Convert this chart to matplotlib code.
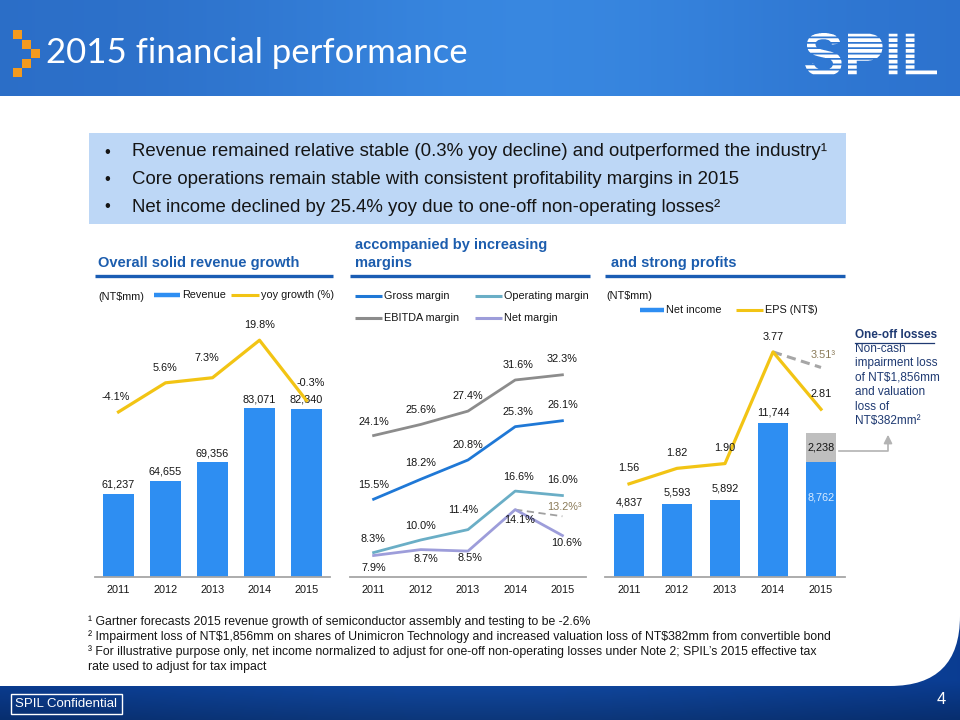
import numpy as np
import matplotlib
matplotlib.use('Agg')
import matplotlib.pyplot as plt
from matplotlib.transforms import Affine2D
from matplotlib.patches import FancyBboxPatch, Rectangle
from matplotlib.textpath import TextPath
from matplotlib.font_manager import FontProperties

# ---------------- data ----------------
years = ['2011', '2012', '2013', '2014', '2015']
revenue = [61237, 64655, 69356, 83071, 82840]
yoy_growth = [-4.1, 5.6, 7.3, 19.8, -0.3]
gross_margin = [15.5, 18.2, 20.8, 25.3, 26.1]
operating_margin = [8.3, 10.0, 11.4, 16.6, 16.0]
ebitda_margin = [24.1, 25.6, 27.4, 31.6, 32.3]
net_margin = [7.9, 8.7, 8.5, 14.1, 10.6]
net_margin_adj_2015 = 13.2
net_income = [4837, 5593, 5892, 11744, 8762]
one_off_loss_2015 = 2238
eps = [1.56, 1.82, 1.90, 3.77, 2.81]
eps_adj_2015 = 3.51

bullets = [
    "Revenue remained relative stable (0.3% yoy decline) and outperformed the industry\u00b9",
    "Core operations remain stable with consistent profitability margins in 2015",
    "Net income declined by 25.4% yoy due to one-off non-operating losses\u00b2",
]
footnotes = [
    "\u00b9 Gartner forecasts 2015 revenue growth of semiconductor assembly and testing to be -2.6%",
    "\u00b2 Impairment loss of NT$1,856mm on shares of Unimicron Technology and increased valuation loss of NT$382mm from convertible bond",
    "\u00b3 For illustrative purpose only, net income normalized to adjust for one-off non-operating losses under Note 2; SPIL\u2019s 2015 effective tax",
    "rate used to adjust for tax impact",
]
oneoff_lines = ["Non-cash", "impairment loss", "of NT$1,856mm", "and valuation", "loss of", "NT$382mm\u00b2"]

# ---------------- style ----------------
plt.rcParams['font.family'] = ['Liberation Sans', 'DejaVu Sans']
BAR_BLUE = '#2E8EF2'
YELLOW = '#F2C414'
GROSS = '#1F78D6'
OPER = '#6AAEC6'
EBITDA = '#8C8C8C'
NETM = '#9D9DDA'
HEAD = '#1C5DAE'
TXT = '#151515'
FS = 7.8

W, H = 960, 720
fig = plt.figure(figsize=(9.6, 7.2), dpi=100)
pix = Affine2D().scale(1 / W, -1 / H).translate(0, 1) + fig.transFigure


def ftext(x, y, s, **kw):
    kw.setdefault('va', 'center')
    return fig.text(x, y, s, transform=pix, parse_math=False, **kw)


def ax_at(x0, y0, x1, y1, **kw):
    return fig.add_axes([x0 / W, 1 - y1 / H, (x1 - x0) / W, (y1 - y0) / H], **kw)


# ---------------- background ----------------
bg = fig.add_axes([0, 0, 1, 1], zorder=-10)
bg.set_xlim(0, W)
bg.set_ylim(H, 0)
bg.axis('off')
yy, xx = np.mgrid[0:H, 0:W]
t = xx / W
img = np.zeros((H, W, 3))
c_left = np.array([0.17, 0.43, 0.78])
c_mid = np.array([0.22, 0.53, 0.88])
c_right = np.array([0.17, 0.44, 0.80])
bump = np.exp(-((t - 0.55) / 0.3) ** 2)[..., None]
edge = (t > 0.55)[..., None]
base = np.where(edge, c_right, c_left)
img[:] = base * (1 - bump) + c_mid * bump
low = yy >= 600
b_dark = np.array([0.03, 0.22, 0.55])
b_light = np.array([0.10, 0.35, 0.72])
vb = np.clip((yy - 680) / 40, 0, 1)[..., None]
hb = np.exp(-((t - 0.5) / 0.45) ** 2)[..., None]
bottom = b_dark * (1 - 0.5 * hb) + b_light * 0.5 * hb
bottom = bottom * (1 - 0.25 * vb)
img[low] = bottom[low]
bg.imshow(img, extent=(0, W, H, 0), aspect='auto', zorder=0)

bg.add_patch(FancyBboxPatch((-80, 96), 1040, 590,
                            boxstyle='round,pad=0,rounding_size=70',
                            fc='white', ec='none', zorder=1))
bg.add_patch(Rectangle((0, 96), 960, 450, fc='white', ec='none', zorder=1))

# orange pixel chevron
for (sx, sy) in [(13, 30), (22, 39.5), (31, 49), (22, 58.5), (13, 68)]:
    bg.add_patch(Rectangle((sx, sy), 9, 9, fc='#F39A1E', ec='none', zorder=2))

# title
ftext(46, 53, '2015 financial performance', fontsize=25,
      color='white', family=['Lato', 'DejaVu Sans'], ha='left')

# SPIL logo: striped white letters, rasterised from the glyph outlines
fp = FontProperties(family='Liberation Sans', weight='bold')
tp = TextPath((0, 0), 'SPIL', size=59, prop=fp)
ext = tp.get_extents()
LX0, LX1, LY0, LY1 = 805, 937, 33, 76
logo_path = tp.transformed(Affine2D().translate(-ext.x0, -ext.y0)
                           .scale((LX1 - LX0) / ext.width, -(LY1 - LY0) / ext.height)
                           .translate(LX0, LY1))
ss = 4
gx0, gx1, gy0, gy1 = 800, 942, 30, 80
gxs = gx0 + (np.arange((gx1 - gx0) * ss) + 0.5) / ss
gys = gy0 + (np.arange((gy1 - gy0) * ss) + 0.5) / ss
GX, GY = np.meshgrid(gxs, gys)
inside = logo_path.contains_points(np.column_stack([GX.ravel(), GY.ravel()])).reshape(GX.shape)
period = (LY1 - LY0) / 8.0
stripe = ((GY - LY0) % period) < period * 0.66
alpha = (inside & stripe).astype(float)
alpha = alpha.reshape((gy1 - gy0), ss, (gx1 - gx0), ss).mean(axis=(1, 3))
logo_img = np.ones((gy1 - gy0, gx1 - gx0, 4))
logo_img[..., 3] = alpha
bg.imshow(logo_img, extent=(gx0, gx1, gy1, gy0), aspect='auto', zorder=3,
          interpolation='nearest')

# bullet box
bg.add_patch(Rectangle((89, 133), 757, 91, fc='#BDD7F6', ec='none', zorder=2))
for i, line in enumerate(bullets):
    y = 152 + i * 27.5
    ftext(104, y, '\u2022', fontsize=12, color=TXT)
    ftext(132, y, line, fontsize=13.4, color=TXT)

# section headers
ftext(98, 263, 'Overall solid revenue growth', fontsize=10.5, weight='bold', color=HEAD)
ftext(355, 245, 'accompanied by increasing', fontsize=10.5, weight='bold', color=HEAD)
ftext(355, 263, 'margins', fontsize=10.5, weight='bold', color=HEAD)
ftext(611, 263, 'and strong profits', fontsize=10.5, weight='bold', color=HEAD)
for (x0, x1) in [(95, 333), (350, 590), (605, 845)]:
    bg.plot([x0, x1], [276, 276], color='#1A5DB4', lw=2.4, solid_capstyle='butt', zorder=3)


# legends (drawn as text + line samples)
def legend_item(x0, x1, y, color, label, lw=2.2):
    bg.plot([x0, x1], [y, y], color=color, lw=lw, solid_capstyle='butt', zorder=3)
    ftext(x1 + 2, y, label, fontsize=FS, color=TXT)


ftext(98, 297, '(NT$mm)', fontsize=FS, color=TXT)
legend_item(154, 180, 295, BAR_BLUE, 'Revenue', lw=3.2)
legend_item(231, 259, 295, YELLOW, 'yoy growth (%)')
legend_item(355, 382, 296, GROSS, 'Gross margin')
legend_item(475, 502, 296, OPER, 'Operating margin')
legend_item(355, 382, 318, EBITDA, 'EBITDA margin')
legend_item(475, 502, 318, NETM, 'Net margin')
ftext(606, 296, '(NT$mm)', fontsize=FS, color=TXT)
legend_item(640, 664, 310, BAR_BLUE, 'Net income', lw=3.2)
legend_item(736, 763, 310, YELLOW, 'EPS (NT$)')


def style_axis(ax):
    for s in ['top', 'left', 'right']:
        ax.spines[s].set_visible(False)
    ax.spines['bottom'].set_color('#A6A6A6')
    ax.spines['bottom'].set_linewidth(1.3)
    ax.set_yticks([])
    ax.set_xticks(range(len(years)))
    ax.set_xticklabels(years, fontsize=FS, color=TXT)
    ax.tick_params(axis='x', length=0, pad=6)
    ax.set_xlim(-0.5, len(years) - 0.5)
    ax.patch.set_alpha(0)


def label(ax, x, y, s, dx, dy, color=TXT, fs=FS):
    ax.annotate(s, (x, y), xytext=(dx, dy), textcoords='offset pixels',
                ha='center', va='center', fontsize=fs, color=color,
                annotation_clip=False)


xs = np.arange(len(years))

# ---------------- chart 1: revenue ----------------
ax1 = ax_at(95, 300, 330, 577)
style_axis(ax1)
ax1.bar(xs, revenue, width=0.64, color=BAR_BLUE, zorder=2)
ax1.set_ylim(40160, 110500)
for x, v in zip(xs, revenue):
    label(ax1, x, v, f'{v:,}', 0, 9)
ax1b = ax1.twinx()
ax1b.set_ylim(-59.1, 33.2)
ax1b.axis('off')
ax1b.plot(xs, yoy_growth, color=YELLOW, lw=2.3, zorder=3)
g_off = [(-3, 15), (-1, 15), (-6, 20), (0, 15), (4, 18)]
for x, v, (dx, dy) in zip(xs, yoy_growth, g_off):
    label(ax1b, x, v, f'{v:.1f}%', dx, dy)

# ---------------- chart 2: margins ----------------
ax2 = ax_at(350, 300, 586, 577)
style_axis(ax2)
ax2.set_ylim(5.0, 42.4)
ax2.plot([3, 4], [net_margin[3], net_margin_adj_2015], color='#A0A0A0', lw=1.3,
         ls=(0, (4, 2.5)), zorder=2)
ax2.plot(xs, ebitda_margin, color=EBITDA, lw=2.0, zorder=3)
ax2.plot(xs, gross_margin, color=GROSS, lw=2.0, zorder=3)
ax2.plot(xs, operating_margin, color=OPER, lw=2.0, zorder=3)
ax2.plot(xs, net_margin, color=NETM, lw=2.0, zorder=3)
e_off = [(0, 14), (0, 14), (0, 15), (3, 15), (0, 16)]
gm_off = [(0, 14), (0, 16), (0, 15), (3, 15), (0, 16)]
op_off = [(-1, 14), (0, 14), (-5, 20), (3, 14), (0, 16)]
nm_off = [(0, -12), (5, -9), (2, -7), (4, -10), (4, -7)]
for series, offs in [(ebitda_margin, e_off), (gross_margin, gm_off),
                     (operating_margin, op_off), (net_margin, nm_off)]:
    for x, v, (dx, dy) in zip(xs, series, offs):
        label(ax2, x, v, f'{v:.1f}%', dx, dy)
label(ax2, 4, net_margin_adj_2015, f'{net_margin_adj_2015:.1f}%\u00b3', 2, 9, color='#8A7A58')

# ---------------- chart 3: profits ----------------
ax3 = ax_at(605, 300, 845, 577)
style_axis(ax3)
ax3.set_ylim(0, 21130)
ax3.bar(xs, net_income, width=0.625, color=BAR_BLUE, zorder=2)
ax3.bar([4], [one_off_loss_2015], bottom=[net_income[4]], width=0.625,
        color='#BFBFBF', zorder=2)
for x, v in zip(xs[:4], net_income[:4]):
    label(ax3, x, v, f'{v:,}', 0, 11)
label(ax3, 4, net_income[4] + one_off_loss_2015 / 2, f'{one_off_loss_2015:,}', 0, 0)
label(ax3, 4, net_income[4], f'{net_income[4]:,}', 0, -35, color='#D8EBFF')
ax3b = ax3.twinx()
ax3b.set_ylim(0, 4.64)
ax3b.axis('off')
ax3b.plot([3, 4], [eps[3], eps_adj_2015], color='#A6A6A6', lw=2.2,
          ls=(0, (3, 1.8)), zorder=2)
ax3b.plot(xs, eps, color=YELLOW, lw=2.3, zorder=3)
eps_off = [(0, 16), (0, 15), (0, 16), (0, 15), (0, 15)]
for x, v, (dx, dy) in zip(xs, eps, eps_off):
    label(ax3b, x, v, f'{v:.2f}', dx, dy)
label(ax3b, 4, eps_adj_2015, f'{eps_adj_2015:.2f}\u00b3', 2, 12, color='#8A7A58')

# connector arrow to one-off note
bg.plot([839, 888, 888], [451, 451, 441], color='#B3B3B3', lw=1.2, zorder=3)
bg.annotate('', xy=(888, 432), xytext=(888, 442),
            arrowprops=dict(arrowstyle='-|>,head_width=0.25,head_length=0.5',
                            color='#B3B3B3', lw=1.2), zorder=3)

# one-off losses note
NAVY = '#1F3A72'
ftext(855, 335, 'One-off losses', fontsize=8.5, weight='bold', color=NAVY)
bg.plot([855, 934], [343, 343], color=NAVY, lw=0.9, zorder=3)
for i, s in enumerate(oneoff_lines):
    ftext(855, 349 + i * 14.4, s, fontsize=8.5, color=NAVY)

# footnotes
for i, s in enumerate(footnotes):
    ftext(88, 622 + i * 15, s, fontsize=8.8, color=TXT)

# footer
ftext(15, 704, 'SPIL Confidential', fontsize=9.5, color='white', ha='left')
bg.add_patch(Rectangle((11, 694), 111, 20, fc='none', ec='white', lw=1.0, zorder=3))
ftext(941, 700, '4', fontsize=12, color='white', ha='center')

fig.savefig('out.png', dpi=100)
